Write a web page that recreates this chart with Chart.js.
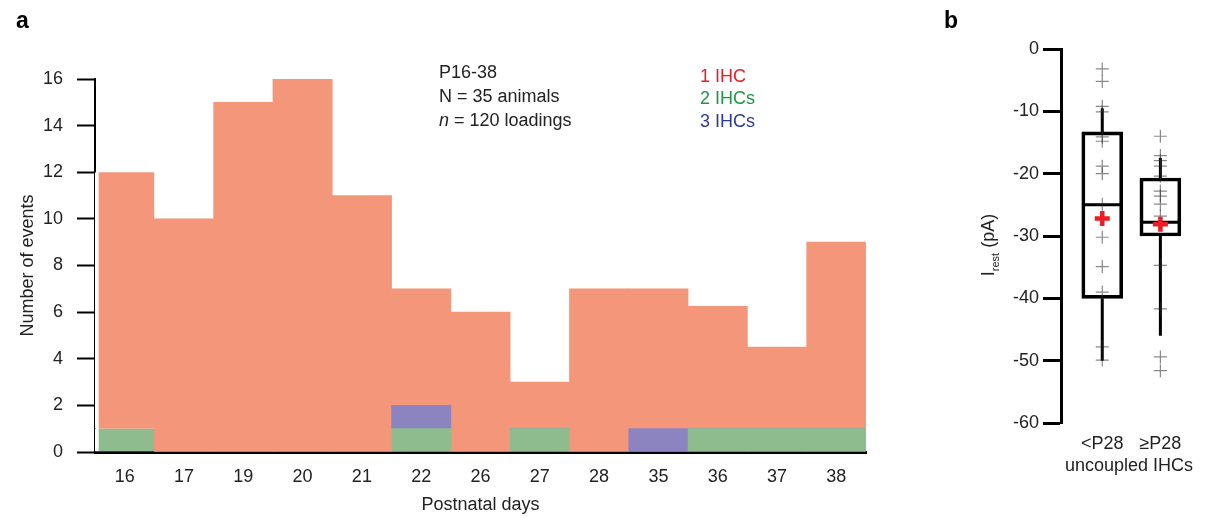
<!DOCTYPE html>
<html>
<head>
<meta charset="utf-8">
<script src="https://cdn.jsdelivr.net/npm/chart.js@4/dist/chart.umd.min.js"></script>
<style>
  body { margin: 0; background: #fff; }
  #wrap { position: relative; width: 1209px; height: 518px; }
  canvas { position: absolute; top: 0; }
  #histChart { left: 0; }
  #boxChart { left: 900px; }
</style>
</head>
<body>
<div id="wrap">
  <canvas id="histChart" width="880" height="518"></canvas>
  <canvas id="boxChart" width="309" height="518"></canvas>
</div>
<script>
// panel a data
const days = ['16', '17', '19', '20', '21', '22', '26', '27', '28', '35', '36', '37', '38'];
const oneIHC = [11, 10, 15, 16, 11, 5, 6, 2, 7, 6, 5.25, 3.5, 8];
const twoIHC = [1, 0, 0, 0, 0, 1, 0, 1, 0, 0, 1, 1, 1];
const threeIHC = [0, 0, 0, 0, 0, 1, 0, 0, 0, 1, 0, 0, 0];
const yTicksA = [0, 2, 4, 6, 8, 10, 12, 14, 16];

// panel b data
const groups = ['<P28', '≥P28'];
const q1 = [-40, -30];
const q3 = [-13.3, -20.7];
const median = [-25, -27.8];
const mean = [-27.2, -28.1];
const whiskerLow = [-50, -46];
const whiskerHigh = [-9.5, -17.5];
const pointsYoung = [-3.2, -5.2, -9.2, -10.1, -14.1, -14.8, -18.8, -20, -24.9, -30.2, -34.9, -39, -47.8, -49.9];
const pointsOld = [-14, -17.1, -17.9, -18.8, -20.4, -22.8, -23.6, -24.9, -26.8, -28, -34.7, -41.7, -49.4, -51.6];

const FONT = "'Liberation Sans', Arial, sans-serif";
Chart.defaults.font.family = FONT;
Chart.defaults.color = '#222';

// text drawn on top of panel a
const annotA = {
  id: 'annotA',
  afterDraw(chart) {
    const ctx = chart.ctx;
    ctx.save();
    ctx.textBaseline = 'middle';
    ctx.fillStyle = '#000';
    ctx.font = 'bold 23px ' + FONT;
    ctx.fillText('a', 16, 22);
    ctx.font = '18px ' + FONT;
    ctx.fillStyle = '#222';
    ctx.fillText('P16-38', 439, 73);
    ctx.fillText('N = 35 animals', 439, 97);
    ctx.font = 'italic 18px ' + FONT;
    ctx.fillText('n', 439, 121);
    const w = ctx.measureText('n').width;
    ctx.font = '18px ' + FONT;
    ctx.fillText(' = 120 loadings', 439 + w, 121);
    ctx.fillStyle = '#E31E24';
    ctx.fillText('1 IHC', 700, 77);
    ctx.fillStyle = '#1F9548';
    ctx.fillText('2 IHCs', 700, 99);
    ctx.fillStyle = '#2E3A92';
    ctx.fillText('3 IHCs', 700, 122);
    ctx.restore();
  }
};

const barBorder = ctx => ctx.dataIndex === 0 ? {left: 4, top: 0, right: 0, bottom: 0} : 0;

new Chart(document.getElementById('histChart'), {
  type: 'bar',
  data: {
    labels: days,
    datasets: [
      {label: '2 IHCs', data: twoIHC, backgroundColor: '#8FBC8F', borderColor: '#fff', borderWidth: barBorder, borderSkipped: false},
      {label: '3 IHCs', data: threeIHC, backgroundColor: '#8B84C0', borderColor: '#fff', borderWidth: barBorder, borderSkipped: false},
      {label: '1 IHC', data: oneIHC, backgroundColor: '#F4967A', borderColor: '#fff', borderWidth: barBorder, borderSkipped: false}
    ]
  },
  options: {
    responsive: false,
    animation: false,
    layout: {padding: {top: 79, right: 14, left: 0, bottom: 0}},
    datasets: {bar: {categoryPercentage: 1, barPercentage: 1}},
    plugins: {legend: {display: false}, tooltip: {enabled: false}},
    scales: {
      x: {
        stacked: true,
        grid: {display: false},
        border: {display: true, color: '#000', width: 3},
        ticks: {padding: 6, font: {size: 18}, color: '#222'},
        title: {display: true, text: 'Postnatal days', font: {size: 18}, color: '#222', padding: {top: 0, bottom: 2}},
        afterFit: s => { s.height = 66; }
      },
      y: {
        stacked: true,
        min: 0,
        max: 16,
        afterBuildTicks: s => { s.ticks = yTicksA.map(v => ({value: v})); },
        grid: {drawOnChartArea: false, drawTicks: true, tickLength: 18, tickWidth: 2, tickColor: '#000'},
        border: {display: true, color: '#000', width: 2},
        ticks: {padding: 14, font: {size: 18}, color: '#222'},
        title: {display: true, text: 'Number of events', font: {size: 18}, color: '#222', padding: {top: 17, bottom: 0}},
        afterFit: s => { s.width = 95; }
      }
    }
  },
  plugins: [annotA]
});

// panel b
const annotB = {
  id: 'annotB',
  afterDraw(chart) {
    const ctx = chart.ctx;
    ctx.save();
    ctx.fillStyle = '#000';
    ctx.textBaseline = 'middle';
    ctx.font = 'bold 23px ' + FONT;
    ctx.fillText('b', 44, 22);
    // y title with subscript
    ctx.translate(88, 245);
    ctx.rotate(-Math.PI / 2);
    ctx.fillStyle = '#222';
    ctx.textBaseline = 'alphabetic';
    const parts = [['I', 18, 0], ['rest', 11, 5], [' (pA)', 18, 0]];
    let total = 0;
    parts.forEach(p => { ctx.font = p[1] + 'px ' + FONT; total += ctx.measureText(p[0]).width; });
    let x = -total / 2;
    parts.forEach(p => {
      ctx.font = p[1] + 'px ' + FONT;
      ctx.fillText(p[0], x, 6 + p[2]);
      x += ctx.measureText(p[0]).width;
    });
    ctx.restore();
  }
};

const halfBox = 0.35;
const whiskerData = [];
const medianData = [];
groups.forEach((g, i) => {
  const xv = i + 1;
  whiskerData.push({x: xv, y: whiskerHigh[i]}, {x: xv, y: q3[i]}, {x: xv, y: null},
                   {x: xv, y: q1[i]}, {x: xv, y: whiskerLow[i]}, {x: xv, y: null});
  medianData.push({x: xv - halfBox, y: median[i]}, {x: xv + halfBox, y: median[i]}, {x: xv + halfBox, y: null});
});
const scatterData = pointsYoung.map(v => ({x: 1, y: v})).concat(pointsOld.map(v => ({x: 2, y: v})));

new Chart(document.getElementById('boxChart'), {
  type: 'bar',
  data: {
    datasets: [
      {
        type: 'bar',
        data: groups.map((g, i) => ({x: i + 1, y: [q1[i], q3[i]]})),
        backgroundColor: 'rgba(255,255,255,0)',
        borderColor: '#000',
        borderWidth: 3,
        borderSkipped: false,
        barThickness: 41,
        grouped: false,
        order: 3
      },
      {
        type: 'line',
        data: whiskerData,
        borderColor: '#000',
        borderWidth: 3,
        pointRadius: 0,
        spanGaps: false,
        order: 2
      },
      {
        type: 'line',
        data: medianData,
        borderColor: '#000',
        borderWidth: 3,
        pointRadius: 0,
        spanGaps: false,
        order: 2
      },
      {
        type: 'scatter',
        data: scatterData,
        pointStyle: 'cross',
        pointRadius: 6.5,
        borderColor: 'rgba(40,40,40,0.55)',
        borderWidth: 1.2,
        order: 1
      },
      {
        type: 'scatter',
        data: mean.map((v, i) => ({x: i + 1, y: v})),
        pointStyle: 'cross',
        pointRadius: 7.5,
        borderColor: '#EE1C25',
        borderWidth: 4.5,
        order: 0
      }
    ]
  },
  options: {
    responsive: false,
    animation: false,
    layout: {padding: {top: 49, right: 0, left: 0, bottom: 0}},
    plugins: {legend: {display: false}, tooltip: {enabled: false}},
    scales: {
      x: {
        type: 'linear',
        offset: false,
        min: 0.29,
        max: 2.63,
        afterBuildTicks: s => { s.ticks = groups.map((g, i) => ({value: i + 1})); },
        grid: {display: false, offset: false},
        border: {display: false},
        ticks: {padding: 2, font: {size: 18}, color: '#222', callback: (v, i) => groups[i]},
        title: {display: true, text: 'uncoupled IHCs', font: {size: 18}, color: '#222', padding: {top: 0, bottom: 41}},
        afterFit: s => { s.height = 95; }
      },
      y: {
        min: -60,
        max: 0,
        ticks: {stepSize: 10, padding: 4, font: {size: 18}, color: '#222'},
        grid: {drawOnChartArea: false, drawTicks: true, tickLength: 18, tickWidth: 3, tickColor: '#000'},
        border: {display: true, color: '#000', width: 3},
        afterFit: s => { s.width = 161; }
      }
    }
  },
  plugins: [annotB]
});
</script>
</body>
</html>
